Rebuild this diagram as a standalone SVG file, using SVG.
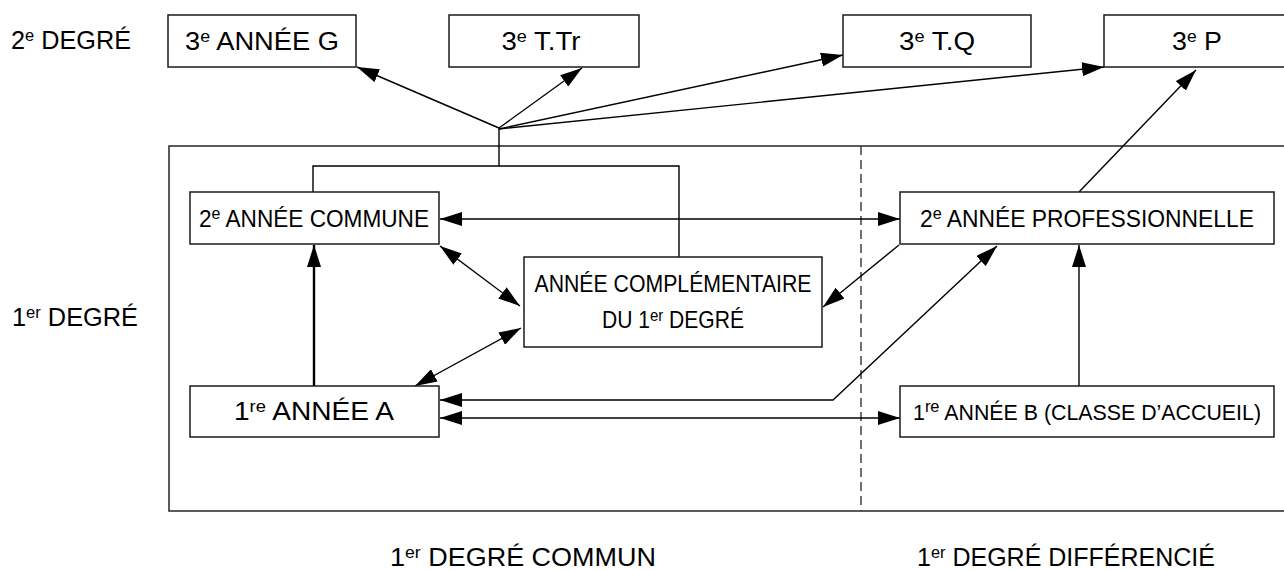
<svg xmlns="http://www.w3.org/2000/svg" width="1284" height="570" viewBox="0 0 1284 570">
<style>
.box{fill:#fff;stroke:#1a1a1a;stroke-width:1.5}
.frame{fill:none;stroke:#333;stroke-width:1.6}
.t{font-family:"Liberation Sans",Arial,sans-serif;font-size:26px;fill:#000}
.i{font-size:24px}
.s{font-size:22px}
.c{text-anchor:middle}
.sup{font-size:17px}
.ln{fill:none;stroke:#000;stroke-width:1.4}
.thick{stroke-width:2.4}
.arr{marker-end:url(#ah)}
.dbl{marker-start:url(#ah);marker-end:url(#ah)}
</style>
<defs>
<marker id="ah" viewBox="0 0 22 14" refX="22" refY="7" markerWidth="22" markerHeight="14" markerUnits="userSpaceOnUse" orient="auto-start-reverse">
<path d="M0,0 L22,7 L0,14 z" fill="#000"/>
</marker>
</defs>
<rect width="1284" height="570" fill="#fff"/>

<g id="frame">
<rect class="frame" x="169" y="146" width="1135" height="365"/>
<line x1="861" y1="146" x2="861" y2="511" stroke="#333" stroke-width="1.4" stroke-dasharray="9,5"/>
</g>

<g id="labels">
<text class="t" x="11" y="49" textLength="120" lengthAdjust="spacingAndGlyphs">2<tspan class="sup" dy="-8">e</tspan><tspan dy="8"> DEGRÉ</tspan></text>
<text class="t" x="12" y="326" textLength="126" lengthAdjust="spacingAndGlyphs">1<tspan class="sup" dy="-8">er</tspan><tspan dy="8"> DEGRÉ</tspan></text>
<text class="t" x="390" y="566" textLength="266" lengthAdjust="spacingAndGlyphs">1<tspan class="sup" dy="-8">er</tspan><tspan dy="8"> DEGRÉ COMMUN</tspan></text>
<text class="t" x="917" y="566" textLength="298" lengthAdjust="spacingAndGlyphs">1<tspan class="sup" dy="-8">er</tspan><tspan dy="8"> DEGRÉ DIFFÉRENCIÉ</tspan></text>
</g>

<g id="connectors">
<line class="ln" x1="499" y1="128" x2="499" y2="166"/>
<polyline class="ln" points="313,192 313,166 679,166 679,257"/>
<line class="ln arr" x1="499" y1="128" x2="357" y2="67"/>
<line class="ln arr" x1="499" y1="128" x2="582" y2="68"/>
<line class="ln arr" x1="499" y1="129" x2="843" y2="55"/>
<line class="ln arr" x1="499" y1="129" x2="1104" y2="67"/>
<line class="ln dbl" x1="440" y1="219" x2="900" y2="219"/>
<line class="ln dbl" x1="440" y1="246" x2="520" y2="306"/>
<line class="ln dbl" x1="521" y1="328" x2="415" y2="386"/>
<line class="ln thick arr" x1="314" y1="386" x2="314" y2="245"/>
<line class="ln arr" x1="899" y1="245" x2="823" y2="307"/>
<polyline class="ln dbl" points="440,400 833,400 997,246"/>
<line class="ln dbl" x1="440" y1="418" x2="900" y2="418"/>
<line class="ln arr" x1="1079" y1="386" x2="1079" y2="245"/>
<line class="ln arr" x1="1079" y1="192" x2="1196" y2="70"/>
</g>

<g id="n3G">
<rect class="box" x="168" y="15" width="188" height="52"/>
<text class="t c" x="262" y="50" textLength="154" lengthAdjust="spacingAndGlyphs">3<tspan class="sup" dy="-8">e</tspan><tspan dy="8"> ANNÉE G</tspan></text>
</g>
<g id="n3TTr">
<rect class="box" x="449" y="15" width="190" height="52"/>
<text class="t c" x="541" y="50" textLength="79" lengthAdjust="spacingAndGlyphs">3<tspan class="sup" dy="-8">e</tspan><tspan dy="8"> T.Tr</tspan></text>
</g>
<g id="n3TQ">
<rect class="box" x="843" y="15" width="188" height="52"/>
<text class="t c" x="937" y="50" textLength="76" lengthAdjust="spacingAndGlyphs">3<tspan class="sup" dy="-8">e</tspan><tspan dy="8"> T.Q</tspan></text>
</g>
<g id="n3P">
<rect class="box" x="1104" y="15" width="190" height="52"/>
<text class="t c" x="1197" y="50" textLength="50" lengthAdjust="spacingAndGlyphs">3<tspan class="sup" dy="-8">e</tspan><tspan dy="8"> P</tspan></text>
</g>
<g id="n2AC">
<rect class="box" x="190" y="192" width="249" height="52"/>
<text class="t i c" x="314" y="227" textLength="230" lengthAdjust="spacingAndGlyphs">2<tspan class="sup" dy="-8">e</tspan><tspan dy="8"> ANNÉE COMMUNE</tspan></text>
</g>
<g id="nACD">
<rect class="box" x="524" y="257" width="298" height="90"/>
<text class="t i c" x="673" y="292" textLength="277" lengthAdjust="spacingAndGlyphs">ANNÉE COMPLÉMENTAIRE</text>
<text class="t i c" x="673" y="328" textLength="142" lengthAdjust="spacingAndGlyphs">DU 1<tspan class="sup" dy="-7">er</tspan><tspan dy="7"> DEGRÉ</tspan></text>
</g>
<g id="n2AP">
<rect class="box" x="900" y="192" width="374" height="52"/>
<text class="t i c" x="1087" y="227" textLength="334" lengthAdjust="spacingAndGlyphs">2<tspan class="sup" dy="-8">e</tspan><tspan dy="8"> ANNÉE PROFESSIONNELLE</tspan></text>
</g>
<g id="n1AA">
<rect class="box" x="190" y="386" width="249" height="51"/>
<text class="t c" x="314" y="420" textLength="160" lengthAdjust="spacingAndGlyphs">1<tspan class="sup" dy="-8">re</tspan><tspan dy="8"> ANNÉE A</tspan></text>
</g>
<g id="n1AB">
<rect class="box" x="900" y="386" width="374" height="51"/>
<text class="t s c" x="1087" y="420" textLength="348" lengthAdjust="spacingAndGlyphs">1<tspan class="sup" dy="-8">re</tspan><tspan dy="8"> ANNÉE B (CLASSE D’ACCUEIL)</tspan></text>
</g>
</svg>
